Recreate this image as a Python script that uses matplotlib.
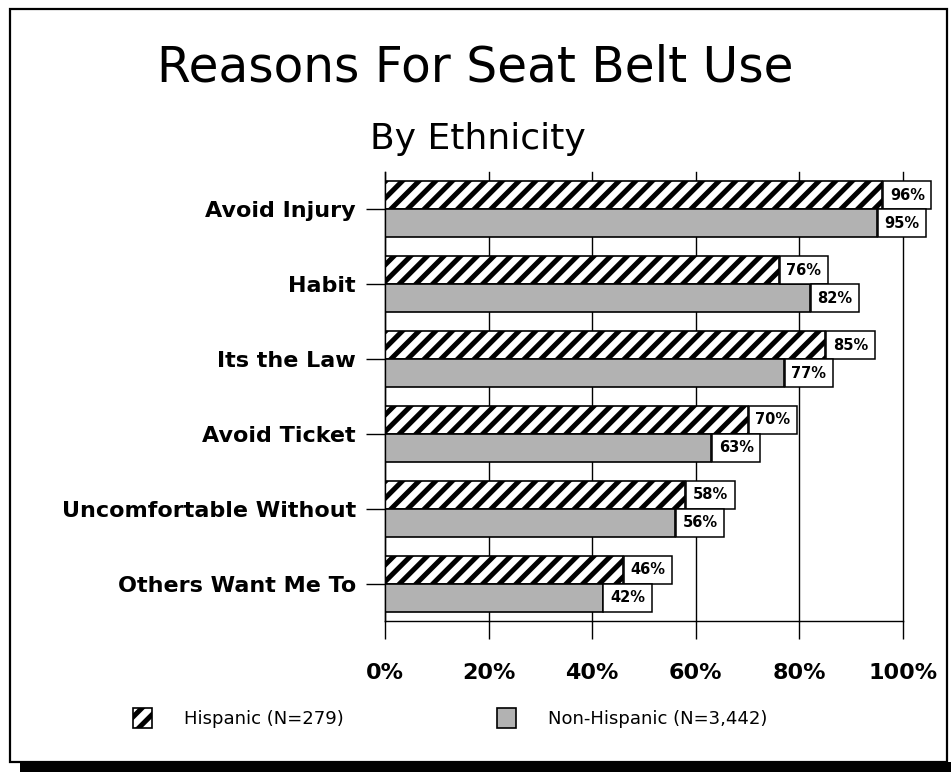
import matplotlib.pyplot as plt
from matplotlib.patches import Rectangle
import numpy as np

# values (percent)
reasons = ['Avoid Injury', 'Habit', 'Its the Law', 'Avoid Ticket',
           'Uncomfortable Without', 'Others Want Me To']
hispanic = [96, 76, 85, 70, 58, 46]
non_hispanic = [95, 82, 77, 63, 56, 42]
series_names = ['Hispanic (N=279)', 'Non-Hispanic (N=3,442)']
x_ticks = [0, 20, 40, 60, 80, 100]

plt.rcParams['font.family'] = ['DejaVu Sans']
plt.rcParams['hatch.linewidth'] = 3.6

W, H = 951, 772
fig = plt.figure(figsize=(W / 100, H / 100), dpi=100)
ax = fig.add_axes([385 / W, 1 - 621 / H, (903 - 385) / W, (621 - 172) / H])

y = np.arange(len(reasons))
h = 0.374
b1 = ax.barh(y - h / 2, hispanic, height=h, color='white', edgecolor='black',
             hatch='//', linewidth=1.2, label=series_names[0], zorder=2)
b2 = ax.barh(y + h / 2, non_hispanic, height=h, color='#b2b2b2', edgecolor='black',
             linewidth=1.2, label=series_names[1], zorder=2)

# boxed value labels at the end of each bar
box = dict(boxstyle='square,pad=0.45', facecolor='white', edgecolor='black', linewidth=1.1)
for bars, vals in [(b1, hispanic), (b2, non_hispanic)]:
    for rect, v in zip(bars, vals):
        ax.annotate(f'{v}%', (v, rect.get_y() + rect.get_height() / 2),
                    xytext=(5.4, 0), textcoords='offset points',
                    ha='left', va='center', fontsize=10.5, fontweight='bold',
                    bbox=box, zorder=5, annotation_clip=False)

ax.set_xlim(0, 100)
ax.set_ylim(len(reasons) - 0.5, -0.5)
ax.set_xticks(x_ticks)
ax.set_xticklabels([f'{t}%' for t in x_ticks], fontsize=16, fontweight='bold')
ax.set_yticks(y)
ax.set_yticklabels(reasons, fontsize=16, fontweight='bold')
ax.tick_params(axis='x', length=13, width=1, pad=17)
ax.tick_params(axis='y', length=14, width=1, pad=7)
ax.xaxis.grid(True, color='black', linewidth=1)
ax.set_axisbelow(True)
for gl in ax.get_xgridlines():
    gl.set_clip_on(False)
for side in ['top', 'right']:
    ax.spines[side].set_visible(False)
for side in ['left', 'bottom']:
    ax.spines[side].set_linewidth(1)

# titles
fig.text(475 / W, 1 - 82 / H, 'Reasons For Seat Belt Use', ha='center',
         va='baseline', fontsize=35)
fig.text(478 / W, 1 - 149 / H, 'By Ethnicity', ha='center', va='baseline', fontsize=26)

# legend, one entry at a time so each sits where it does in the original
for handle, name, xpos in [(b1, series_names[0], 133), (b2, series_names[1], 497)]:
    fig.legend([handle], [name], loc='center left', bbox_to_anchor=(xpos / W, 1 - 718 / H),
               frameon=False, fontsize=13, handlelength=1.05, handleheight=1.3,
               handletextpad=1.8, borderpad=0, borderaxespad=0)

# outer frame with drop shadow
fig.patches.append(Rectangle((10 / W, 1 - 762 / H), 937 / W, 753 / H, transform=fig.transFigure,
                             fill=False, edgecolor='black', linewidth=1.6))
fig.patches.append(Rectangle((20 / W, 0), 1, 10 / H, transform=fig.transFigure,
                             facecolor='black', edgecolor='none'))

fig.savefig('out.png', dpi=100)
